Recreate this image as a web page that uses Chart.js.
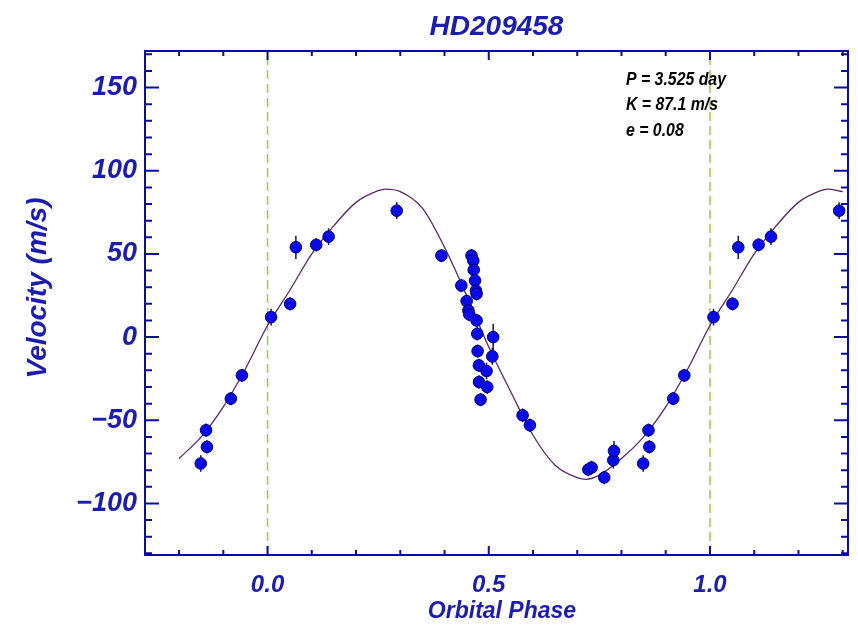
<!DOCTYPE html>
<html lang="en">
<head>
    <meta charset="UTF-8">
    <title>HD209458</title>
    <style>
        body {
            margin: 0;
            background: #ffffff;
        }
        #wrap {
            width: 858px;
            height: 627px;
        }
    </style>
</head>
<body>
    <div id="wrap">
        <canvas id="rvChart" width="858" height="627"></canvas>
    </div>

    <script src="https://cdn.jsdelivr.net/npm/chart.js"></script>
    <script>
        // measured radial velocities (phase, m/s, error)
        const obsPhase = [
            0.008, 0.051, 0.064, 0.110, 0.138, 0.292,
            0.393, 0.438, 0.450, 0.454, 0.456, 0.461, 0.465, 0.466, 0.469, 0.471,
            0.4725, 0.4725, 0.474, 0.4748, 0.4777, 0.478, 0.4815, 0.495, 0.4966,
            0.508, 0.510, 0.5765, 0.593,
            0.725, 0.7325, 0.761, 0.7815, 0.783,
            0.849, 0.861, 0.863, 0.917, 0.942
        ];
        const obsVel = [
            12, 20, 54, 55.5, 60.4, 76,
            49, 31, 21.6, 16, 13.6, 49, 46, 40.4, 34, 28,
            26, 10, 2, -8.4, -17, -27, -37.6, -20.4, -30,
            -11.6, 0, -47, -53,
            -79.6, -78.4, -84.4, -74, -68.4,
            -76, -56, -66, -37, -23
        ];
        const obsErr = [
            5, 4, 7, 4, 5, 5,
            4, 4, 4, 4, 4, 4, 4, 4, 4, 4,
            4, 4, 4, 4, 4, 4, 4, 5, 4,
            5, 8, 4, 4,
            4, 4, 4, 5, 6,
            5, 4, 4, 4, 4
        ];

        // fitted orbit curve
        const fitPhase = [
            -0.20, -0.15, -0.10, -0.05, 0.00, 0.05, 0.10, 0.15, 0.20, 0.25, 0.265, 0.30,
            0.35, 0.40, 0.45, 0.50, 0.55, 0.60, 0.65, 0.70, 0.72, 0.75, 0.80, 0.85,
            0.90, 0.95, 1.00, 1.05, 1.10, 1.15, 1.20, 1.25, 1.265, 1.30
        ];
        const fitVel = [
            -73, -60, -42, -19, 7, 28, 50, 67, 81, 88, 89, 87.5,
            77.5, 54, 25, -6, -33, -59, -77, -84.5, -85.5, -83, -73, -60,
            -42, -19, 7, 28, 50, 67, 81, 88, 89, 87.5
        ];

        const xTickLabels = [0.0, 0.5, 1.0];
        const yTickLabels = [-100, -50, 0, 50, 100, 150];
        const fitNotes = ['P = 3.525 day', 'K = 87.1 m/s', 'e = 0.08'];

        const xMin = -0.277, xMax = 1.312;
        const yMin = -131, yMax = 172;

        const blue = '#1c1cb0';
        const axisBlue = '#0c0c9c';
        const fontFam = '"Liberation Sans", Arial, sans-serif';

        // points repeated one cycle earlier / later, as in the plot
        const points = [];
        obsPhase.forEach((p, i) => {
            points.push({ x: p, y: obsVel[i], err: obsErr[i] });
            if (p >= 0.8) points.push({ x: p - 1, y: obsVel[i], err: obsErr[i] });
            if (p <= 0.3) points.push({ x: p + 1, y: obsVel[i], err: obsErr[i] });
        });

        const fitData = fitPhase.map((p, i) => ({ x: p, y: fitVel[i] }));

        // frame with inward ticks on all four sides
        const framePlugin = {
            id: 'frame',
            afterDraw(chart) {
                const { ctx, chartArea: a, scales: { x, y } } = chart;
                ctx.save();
                ctx.strokeStyle = axisBlue;
                ctx.lineWidth = 2;
                ctx.strokeRect(a.left, a.top, a.right - a.left, a.bottom - a.top);
                ctx.beginPath();
                for (let i = -2; i <= 13; i++) {
                    const px = x.getPixelForValue(i / 10);
                    const len = i % 5 === 0 ? 9 : 5;
                    ctx.moveTo(px, a.bottom); ctx.lineTo(px, a.bottom - len);
                    ctx.moveTo(px, a.top); ctx.lineTo(px, a.top + len);
                }
                for (let v = -130; v <= 170; v += 10) {
                    const py = y.getPixelForValue(v);
                    const len = v % 50 === 0 ? 14 : 7;
                    ctx.moveTo(a.left, py); ctx.lineTo(a.left + len, py);
                    ctx.moveTo(a.right, py); ctx.lineTo(a.right - len, py);
                }
                ctx.stroke();
                ctx.restore();
            }
        };

        // vertical error bars under the markers
        const errorBarPlugin = {
            id: 'errorBars',
            beforeDatasetDraw(chart, args) {
                if (args.index !== 0) return;
                const { ctx, scales: { x, y } } = chart;
                ctx.save();
                ctx.strokeStyle = '#1a1060';
                ctx.lineWidth = 1.5;
                ctx.beginPath();
                chart.data.datasets[0].data.forEach(d => {
                    const px = x.getPixelForValue(d.x);
                    ctx.moveTo(px, y.getPixelForValue(d.y - d.err));
                    ctx.lineTo(px, y.getPixelForValue(d.y + d.err));
                });
                ctx.stroke();
                ctx.restore();
            }
        };

        // axis titles and the fit parameters
        const textPlugin = {
            id: 'texts',
            afterDatasetsDraw(chart) {
                const { ctx } = chart;
                ctx.save();
                ctx.fillStyle = blue;
                ctx.textAlign = 'center';
                ctx.textBaseline = 'middle';
                ctx.font = 'italic bold 23px ' + fontFam;
                ctx.fillText('Orbital Phase', 502, 612);
                ctx.translate(38, 288);
                ctx.rotate(-Math.PI / 2);
                ctx.font = 'italic bold 28px ' + fontFam;
                ctx.fillText('Velocity (m/s)', 0, 0);
                ctx.restore();

                // the plot's label font is narrower than Liberation Sans
                ctx.save();
                ctx.fillStyle = '#000000';
                ctx.textAlign = 'left';
                ctx.textBaseline = 'middle';
                ctx.font = 'italic bold 18px ' + fontFam;
                ctx.translate(626, 0);
                ctx.scale(0.88, 1);
                fitNotes.forEach((t, i) => ctx.fillText(t, 0, 80 + i * 25.5));
                ctx.restore();
            }
        };

        const ctx = document.getElementById('rvChart').getContext('2d');
        new Chart(ctx, {
            type: 'scatter',
            data: {
                datasets: [
                    {
                        label: 'RV',
                        data: points,
                        pointRadius: 5.8,
                        pointBackgroundColor: '#0a0ae6',
                        pointBorderColor: '#00007a',
                        pointBorderWidth: 1
                    },
                    {
                        label: 'fit',
                        data: fitData,
                        showLine: true,
                        pointRadius: 0,
                        borderColor: '#5a2868',
                        borderWidth: 1.3,
                        cubicInterpolationMode: 'monotone'
                    },
                    {
                        label: 'phase 0',
                        data: [{ x: 0, y: yMin }, { x: 0, y: yMax }],
                        showLine: true,
                        pointRadius: 0,
                        borderColor: '#9ccc45',
                        borderWidth: 1.5,
                        borderDash: [9, 5]
                    },
                    {
                        label: 'phase 1',
                        data: [{ x: 1, y: yMin }, { x: 1, y: yMax }],
                        showLine: true,
                        pointRadius: 0,
                        borderColor: '#9ccc45',
                        borderWidth: 1.5,
                        borderDash: [9, 5]
                    }
                ]
            },
            options: {
                responsive: false,
                animation: false,
                layout: { padding: { top: 0, right: 10, bottom: 0, left: 0 } },
                plugins: {
                    legend: { display: false },
                    tooltip: { enabled: false },
                    title: {
                        display: true,
                        fullSize: false,
                        text: 'HD209458',
                        color: blue,
                        font: { family: fontFam, size: 28, style: 'italic', weight: 'bold' },
                        padding: { top: 10, bottom: 7.4 }
                    }
                },
                scales: {
                    x: {
                        type: 'linear',
                        min: xMin,
                        max: xMax,
                        afterFit: s => { s.height = 72; },
                        afterBuildTicks: s => { s.ticks = xTickLabels.map(v => ({ value: v })); },
                        grid: { display: false, drawTicks: false },
                        border: { display: false },
                        ticks: {
                            autoSkip: false,
                            maxRotation: 0,
                            padding: 16,
                            color: blue,
                            font: { family: fontFam, size: 24, style: 'italic', weight: 'bold' },
                            callback: v => Number(v).toFixed(1)
                        }
                    },
                    y: {
                        type: 'linear',
                        min: yMin,
                        max: yMax,
                        afterFit: s => { s.width = 145; },
                        afterBuildTicks: s => { s.ticks = yTickLabels.map(v => ({ value: v })); },
                        grid: { display: false, drawTicks: false },
                        border: { display: false },
                        ticks: {
                            autoSkip: false,
                            padding: 8,
                            color: blue,
                            font: { family: fontFam, size: 27, style: 'italic', weight: 'bold' },
                            callback: v => v < 0 ? '\u2212' + Math.abs(v) : String(v)
                        }
                    }
                }
            },
            plugins: [framePlugin, errorBarPlugin, textPlugin]
        });
    </script>
</body>
</html>
